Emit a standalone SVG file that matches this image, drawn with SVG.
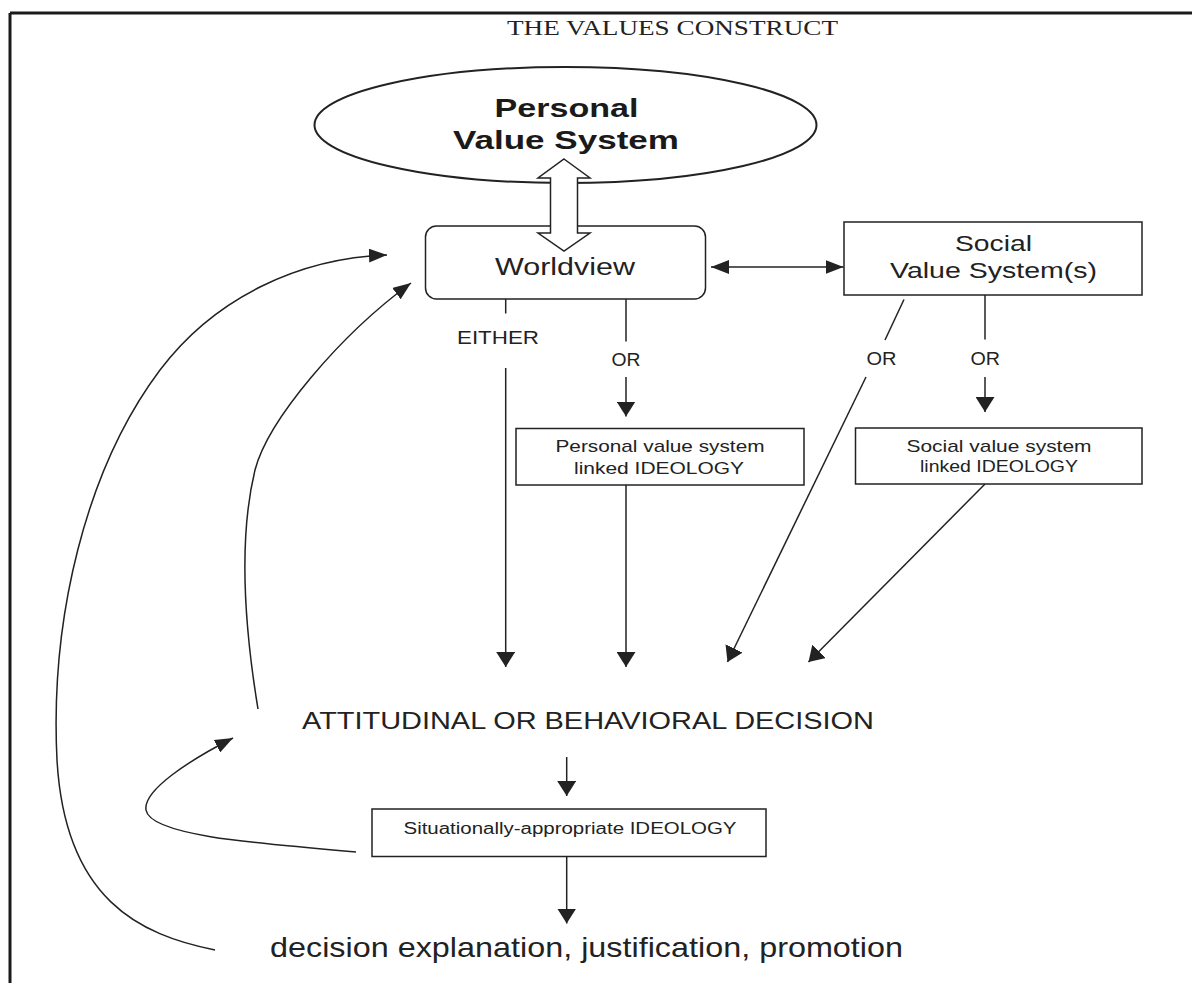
<svg xmlns="http://www.w3.org/2000/svg" width="1192" height="983" viewBox="0 0 1192 983">
<defs>
<style>
.ln{fill:none;stroke:#222;stroke-width:1.5}
.box{fill:#fff;stroke:#222;stroke-width:1.5}
.t{font-family:"Liberation Sans",Arial,sans-serif;fill:#222}
.tb{font-family:"Liberation Sans",Arial,sans-serif;font-weight:bold;fill:#1a1a1a}
.serif{font-family:"Liberation Serif","Times New Roman",serif;fill:#222}
</style>
<marker id="big" viewBox="0 -9.5 15 19" markerWidth="15" markerHeight="19" refX="15" refY="0" orient="auto" markerUnits="userSpaceOnUse">
<path d="M0,-9.5 L15,0 L0,9.5 z" fill="#222"/>
</marker>
<marker id="slim" viewBox="0 -7 18 14" markerWidth="18" markerHeight="14" refX="18" refY="0" orient="auto-start-reverse" markerUnits="userSpaceOnUse">
<path d="M0,-7 L18,0 L0,7 z" fill="#222"/>
</marker>
</defs>
<rect x="0" y="0" width="1192" height="983" fill="#fff"/>
<g id="frame">
<line x1="10" y1="13" x2="1192" y2="13" stroke="#1a1a1a" stroke-width="3"/>
<line x1="10" y1="13" x2="10" y2="983" stroke="#1a1a1a" stroke-width="3"/>
</g>
<g id="title">
<text class="serif" x="507" y="35" font-size="22" textLength="331" lengthAdjust="spacingAndGlyphs">THE VALUES CONSTRUCT</text>
</g>
<g id="personal-value-system">
<ellipse cx="565.5" cy="125" rx="251" ry="58" fill="#fff" stroke="#222" stroke-width="2"/>
<text class="tb" x="494.5" y="117" font-size="25" textLength="144" lengthAdjust="spacingAndGlyphs">Personal</text>
<text class="tb" x="453" y="148.5" font-size="25" textLength="226" lengthAdjust="spacingAndGlyphs">Value System</text>
</g>
<g id="worldview">
<rect class="box" x="425.5" y="226" width="280" height="73" rx="11"/>
<text class="t" x="495" y="275" font-size="23" textLength="140" lengthAdjust="spacingAndGlyphs">Worldview</text>
</g>
<g id="social-value-systems">
<rect class="box" x="844" y="222" width="298" height="73"/>
<text class="t" x="955" y="251" font-size="22" textLength="77" lengthAdjust="spacingAndGlyphs">Social</text>
<text class="t" x="890" y="278" font-size="22" textLength="207" lengthAdjust="spacingAndGlyphs">Value System(s)</text>
</g>
<g id="personal-linked-ideology">
<rect class="box" x="516" y="428.5" width="288" height="56.5"/>
<text class="t" x="555.5" y="452" font-size="17" textLength="209" lengthAdjust="spacingAndGlyphs">Personal value system</text>
<text class="t" x="574" y="473.5" font-size="17" textLength="170" lengthAdjust="spacingAndGlyphs">linked IDEOLOGY</text>
</g>
<g id="social-linked-ideology">
<rect class="box" x="855.5" y="428" width="286.5" height="56"/>
<text class="t" x="906.5" y="452" font-size="17" textLength="185" lengthAdjust="spacingAndGlyphs">Social value system</text>
<text class="t" x="920" y="471.5" font-size="17" textLength="158" lengthAdjust="spacingAndGlyphs">linked IDEOLOGY</text>
</g>
<g id="decision">
<text class="t" x="302" y="729" font-size="24" textLength="572" lengthAdjust="spacingAndGlyphs">ATTITUDINAL OR BEHAVIORAL DECISION</text>
</g>
<g id="situational-ideology">
<rect class="box" x="372" y="809" width="394" height="47.5"/>
<text class="t" x="403.5" y="834" font-size="16" textLength="333" lengthAdjust="spacingAndGlyphs">Situationally-appropriate IDEOLOGY</text>
</g>
<g id="explanation">
<text class="t" x="270" y="957" font-size="28" textLength="633" lengthAdjust="spacingAndGlyphs">decision explanation, justification, promotion</text>
</g>
<g id="connectors">
<polygon points="564,159 590,178 577.5,178 577.5,233 590,233 564,251 538,233 550.5,233 550.5,178 538,178" fill="#fff" stroke="#222" stroke-width="1.5" stroke-linejoin="miter"/>
<line class="ln" x1="711" y1="267" x2="843.5" y2="267" marker-start="url(#slim)" marker-end="url(#slim)"/>
<line class="ln" x1="505.7" y1="299" x2="505.7" y2="313.5"/>
<text class="t" x="457" y="343.5" font-size="18" textLength="82" lengthAdjust="spacingAndGlyphs">EITHER</text>
<line class="ln" x1="505.7" y1="368" x2="505.7" y2="667" marker-end="url(#big)"/>
<line class="ln" x1="626" y1="299" x2="626" y2="341.5"/>
<text class="t" x="611.5" y="366" font-size="18" textLength="29" lengthAdjust="spacingAndGlyphs">OR</text>
<line class="ln" x1="626" y1="377" x2="626" y2="416.5" marker-end="url(#big)"/>
<line class="ln" x1="626" y1="485" x2="626" y2="667" marker-end="url(#big)"/>
<line class="ln" x1="985" y1="295" x2="985" y2="339.5"/>
<text class="t" x="970.5" y="365" font-size="18" textLength="29.5" lengthAdjust="spacingAndGlyphs">OR</text>
<line class="ln" x1="985" y1="377" x2="985" y2="412" marker-end="url(#big)"/>
<line class="ln" x1="904" y1="299.5" x2="885" y2="340"/>
<text class="t" x="866.5" y="365" font-size="18" textLength="30" lengthAdjust="spacingAndGlyphs">OR</text>
<line class="ln" x1="866" y1="377" x2="727.5" y2="662" marker-end="url(#big)"/>
<line class="ln" x1="985" y1="484" x2="808.5" y2="662" marker-end="url(#big)"/>
<line class="ln" x1="566.7" y1="757" x2="566.7" y2="796" marker-end="url(#big)"/>
<line class="ln" x1="566.7" y1="856.5" x2="566.7" y2="923.5" marker-end="url(#big)"/>
<path class="ln" d="M215,950 C140,935 65,900 57,760 C50,620 85,470 160,370 C215,297 300,258 387,255" marker-end="url(#slim)"/>
<path class="ln" d="M258,709 C245,630 238,540 255,470 C268,420 340,335 411,283" marker-end="url(#slim)"/>
<path class="ln" d="M356,852 C250,843 150,835 146,810 C143,790 190,760 233,738" marker-end="url(#slim)"/>
</g>
</svg>
